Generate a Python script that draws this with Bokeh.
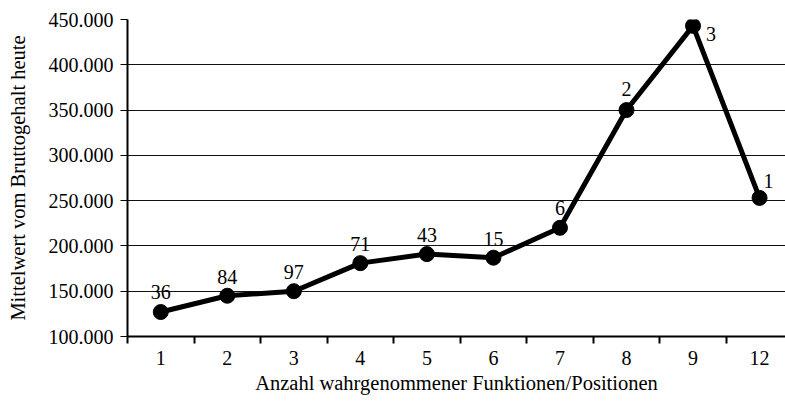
from bokeh.plotting import figure
from bokeh.models import ColumnDataSource, Range1d, FixedTicker
from bokeh.core.properties import value
from bokeh.embed import file_html
from bokeh.resources import INLINE

# ---- data ----
categories = ["1", "2", "3", "4", "5", "6", "7", "8", "9", "12"]
mean_salary = [127000, 145000, 150000, 181000, 191000, 187000, 220000, 350000, 443000, 253000]
counts = ["36", "84", "97", "71", "43", "15", "6", "2", "3", "1"]
y_ticks = [100000, 150000, 200000, 250000, 300000, 350000, 400000, 450000]
y_tick_labels = ["100.000", "150.000", "200.000", "250.000", "300.000", "350.000", "400.000", "450.000"]

FONT = "Liberation Serif"

xs = list(range(1, len(categories) + 1))

# label placement (screen offsets)
x_off = [0, 0, 0, 0, 0, 0, 0, 0, 18, 9]
y_off = [-20, -19, -19, -19, -19, -19, -20, -21, 8, -17]

src = ColumnDataSource(dict(x=xs, y=mean_salary, lab=counts, xo=x_off, yo=y_off))

p = figure(width=785, height=402, output_backend="svg", toolbar_location=None,
           x_range=Range1d(0.5, 10.39), y_range=Range1d(100000, 450000),
           min_border_left=127, min_border_right=0, min_border_top=19, min_border_bottom=66)
p.outline_line_color = None
p.background_fill_color = "white"
p.border_fill_color = "white"

p.line("x", "y", source=src, line_color="black", line_width=5)
p.scatter("x", "y", source=src, size=15, fill_color="black", line_color="black")
p.text("x", "y", text="lab", source=src, x_offset="xo", y_offset="yo",
       text_align="center", text_baseline="middle", text_font=value(FONT),
       text_font_size="20px", text_color="black")

# x axis
p.xaxis.ticker = FixedTicker(ticks=xs, minor_ticks=[x + 0.5 for x in range(0, len(categories) + 1)])
p.xaxis.major_label_overrides = {x: c for x, c in zip(xs, categories)}
p.xaxis.major_tick_out = 0
p.xaxis.major_tick_in = 0
p.xaxis.minor_tick_out = 7
p.xaxis.minor_tick_in = 0
p.xaxis.minor_tick_line_width = 2
p.xaxis.axis_line_width = 2
p.xaxis.major_label_standoff = 7
p.xaxis.axis_label = "Anzahl wahrgenommener Funktionen/Positionen"
p.xaxis.axis_label_standoff = 4
p.xaxis.axis_label_text_font_style = "normal"

# y axis
p.yaxis.ticker = FixedTicker(ticks=y_ticks, minor_ticks=[])
p.yaxis.major_label_overrides = {t: l for t, l in zip(y_ticks, y_tick_labels)}
p.yaxis.major_tick_out = 7
p.yaxis.major_tick_in = 0
p.yaxis.axis_line_width = 2
p.yaxis.major_label_standoff = 7
p.yaxis.axis_label = "Mittelwert vom Bruttogehalt heute"
p.yaxis.axis_label_standoff = 17
p.yaxis.axis_label_text_font_style = "normal"

for ax in (p.xaxis, p.yaxis):
    ax.axis_line_color = "black"
    ax.major_tick_line_color = "black"
    ax.minor_tick_line_color = "black"
    ax.major_label_text_font = FONT
    ax.major_label_text_font_size = "20px"
    ax.major_label_text_color = "black"
    ax.axis_label_text_font = FONT
    ax.axis_label_text_font_size = "20.5px"
    ax.axis_label_text_color = "black"

p.xgrid.grid_line_color = None
p.ygrid.grid_line_color = "#111111"
p.ygrid.grid_line_width = 1

open("out.html", "w").write(file_html(p, INLINE))
